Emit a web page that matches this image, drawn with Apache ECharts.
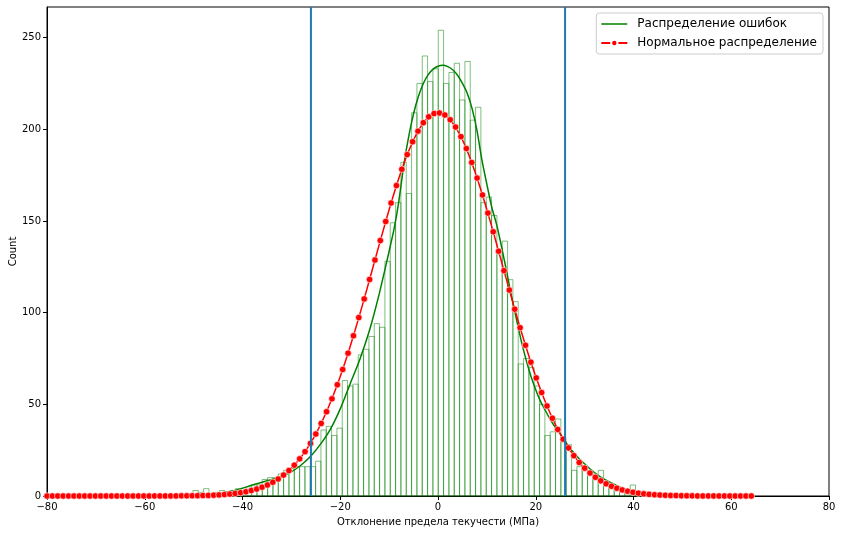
<!DOCTYPE html>
<html><head><meta charset="utf-8">
<script src="https://cdn.jsdelivr.net/npm/echarts/dist/echarts.min.js"></script>
<style>html,body{margin:0;padding:0;background:#fff}#c{width:842px;height:534px}</style>
</head><body><div id="c"></div>
<script>
// Histogram: first bin edge and bin width, counts per bin (left to right)
const binStart = -51.227;
const binWidth = 1.091;
const histCounts = [
  1, 3, 2, 4, 1, 2, 3, 2, 3, 4,
  3, 5, 6, 6, 9, 10, 10, 12, 14, 15,
  16, 16, 16, 16, 19, 36, 38, 33, 37, 63,
  60, 61, 77, 80, 87, 94, 92, 128, 149, 160,
  182, 165, 209, 225, 240, 226, 233, 254, 225, 231,
  236, 216, 237, 205, 212, 160, 163, 153, 133, 139,
  118, 106, 72, 75, 70, 60, 50, 33, 35, 42,
  30, 28, 14, 16, 16, 13, 11, 14, 7, 5,
  4, 3, 2, 6, 1
];

// Green KDE curve ("Распределение ошибок")
const kdeX = [-56,-54,-52,-50,-48,-46,-44,-42,-40,-38,-36,-34,-32,-30,-28,-26,-24,-22,-20,-18,-16,-14,-12,-10,-9,-8,-7,-6,-5,-4,-3,-2,-1,0,1,2,3,4,5,6,7,8,9,10,11,12,13,14,15,16,17,18,19,20,21,22,23,24,25,26,27,28,29,30,31,32,33,34,36,38,40,42,44,46,48];
const kdeY = [0.1,0.25,0.5,0.8,1.0,1.3,1.8,2.7,4.2,6.0,7.5,9.0,10.8,13.2,16.9,21.8,28.4,36.5,47.5,61,74.5,90.5,110.5,133.5,145.5,161,180.5,196,208.5,218,225,229.8,232.8,234.4,234.9,234.2,232.5,229.5,225,219.5,211,199,183,170,157.5,148,136,123,109.5,97,85,74.5,65.5,58,51.5,46.5,41.5,37.5,34,30,26,23,20,17.5,15,12.8,10.8,9.2,6.4,4,2.4,1.3,0.7,0.3,0.1];

// Red normal curve ("Нормальное распределение")
const normX = [-80,-78.9,-77.8,-76.7,-75.6,-74.5,-73.4,-72.3,-71.2,-70.1,-69,-67.9,-66.8,-65.7,-64.6,-63.5,-62.4,-61.3,-60.2,-59.1,-58,-56.9,-55.8,-54.7,-53.6,-52.5,-51.4,-50.3,-49.2,-48.1,-47,-45.9,-44.8,-43.7,-42.6,-41.5,-40.4,-39.3,-38.2,-37.1,-36,-34.9,-33.8,-32.7,-31.6,-30.5,-29.4,-28.3,-27.2,-26.1,-25,-23.9,-22.8,-21.7,-20.6,-19.5,-18.4,-17.3,-16.2,-15.1,-14,-12.9,-11.8,-10.7,-9.6,-8.5,-7.4,-6.3,-5.2,-4.1,-3,-1.9,-0.8,0.3,1.4,2.5,3.6,4.7,5.8,6.9,8,9.1,10.2,11.3,12.4,13.5,14.6,15.7,16.8,17.9,19,20.1,21.2,22.3,23.4,24.5,25.6,26.7,27.8,28.9,30,31.1,32.2,33.3,34.4,35.5,36.6,37.7,38.8,39.9,41,42.1,43.2,44.3,45.4,46.5,47.6,48.7,49.8,50.9,52,53.1,54.2,55.3,56.4,57.5,58.6,59.7,60.8,61.9,63,64.1];
const normY = [0,0,0,0,0,0,0,0,0,0,0,0,0,0,0,0,0,0,0,0,0.01,0.01,0.02,0.03,0.05,0.07,0.09,0.13,0.18,0.25,0.33,0.45,0.6,0.8,1.05,1.38,1.8,2.32,2.98,3.79,4.79,6.01,7.49,9.27,11.39,13.89,16.83,20.26,24.2,28.7,33.8,39.6,45.96,53.0,60.7,69.0,77.9,87.4,97.3,107.5,118.1,128.7,139.3,149.7,159.8,169.3,178.2,186.2,193.2,199.0,203.6,206.8,208.6,208.9,207.8,205.2,201.2,196.0,189.5,181.9,173.4,164.2,154.3,144.1,133.5,122.9,112.3,101.9,91.8,82.2,73.0,64.4,56.4,49.1,42.4,36.3,31.0,26.2,22.0,18.3,15.2,12.5,10.2,8.26,6.65,5.31,4.22,3.32,2.6,2.02,1.56,1.2,0.91,0.69,0.52,0.38,0.28,0.21,0.15,0.11,0.08,0.05,0.04,0.03,0.02,0.01,0.01,0,0,0,0,0];

// Vertical limit lines
const limits = [-26, 26];

const seriesNames = ['Распределение ошибок', 'Нормальное распределение'];
const xLabel = 'Отклонение предела текучести (МПа)';
const yLabel = 'Count';

const histData = histCounts.map((c, i) => [binStart + i * binWidth, binStart + (i + 1) * binWidth, c]);
const kdeData = kdeX.map((x, i) => [x, kdeY[i]]);
const normData = normX.map((x, i) => [x, normY[i]]);

const font = 'DejaVu Sans';
const chart = echarts.init(document.getElementById('c'), null, {renderer: 'canvas'});
chart.setOption({
  animation: false,
  backgroundColor: '#fff',
  grid: {left: 47, right: 13, top: 7, bottom: 38, show: true, borderColor: '#000', borderWidth: 1,
    backgroundColor: 'transparent', containLabel: false, outerBoundsMode: 'none'},
  xAxis: {
    type: 'value', min: -80, max: 80, interval: 20,
    name: xLabel, nameLocation: 'middle', nameGap: 21, nameMoveOverlap: false,
    nameTextStyle: {fontFamily: font, fontSize: 10, color: '#000'},
    axisLine: {show: true, onZero: false, lineStyle: {color: '#000', width: 1}},
    axisTick: {show: true, length: 4, lineStyle: {color: '#000'}},
    axisLabel: {fontFamily: font, fontSize: 10, color: '#000', margin: 6,
      formatter: v => String(v).replace('-', '\u2212')},
    splitLine: {show: false}
  },
  yAxis: {
    type: 'value', min: 0, max: 266.7, interval: 50,
    name: yLabel, nameLocation: 'middle', nameGap: 29, nameMoveOverlap: false,
    nameTextStyle: {fontFamily: font, fontSize: 10, color: '#000'},
    axisLine: {show: true, onZero: false, lineStyle: {color: '#000', width: 1}},
    axisTick: {show: true, length: 4, lineStyle: {color: '#000'}},
    axisLabel: {fontFamily: font, fontSize: 10, color: '#000', margin: 6, showMaxLabel: false},
    splitLine: {show: false}
  },
  legend: {
    data: [
      {name: seriesNames[0], icon: 'path://M0 0H26V1.5H0Z', itemStyle: {color: '#008000'}},
      {name: seriesNames[1]}
    ],
    orient: 'vertical', right: 19, top: 13,
    itemWidth: 26, itemHeight: 8, itemGap: 7,
    padding: [5, 6, 5, 4],
    backgroundColor: 'rgba(255,255,255,0.8)',
    borderColor: '#cccccc', borderWidth: 1, borderRadius: 3,
    textStyle: {fontFamily: font, fontSize: 12, color: '#000', padding: [0, 0, 0, 5]}
  },
  series: [
    {
      type: 'custom', name: 'hist', z: 1, silent: true,
      data: histData,
      encode: {x: [0, 1], y: 2},
      renderItem: (params, api) => {
        const p0 = api.coord([api.value(0), api.value(2)]);
        const p1 = api.coord([api.value(1), 0]);
        return {type: 'rect', shape: {x: p0[0], y: p0[1], width: p1[0] - p0[0], height: p1[1] - p0[1]},
          style: {fill: 'none', stroke: 'rgba(0,128,0,0.5)', lineWidth: 1}};
      }
    },
    {
      type: 'line', name: seriesNames[0], z: 2, data: kdeData,
      symbol: 'none', smooth: 0.2,
      lineStyle: {color: '#008000', width: 1.5}, itemStyle: {color: '#008000'}
    },
    {
      type: 'line', name: seriesNames[1], z: 3, data: normData,
      symbol: 'circle', symbolSize: 6.5, showSymbol: true,
      lineStyle: {color: '#ff0000', width: 1.5},
      itemStyle: {color: '#ff0000', borderColor: '#ffffff', borderWidth: 0.6}
    },
    {
      type: 'custom', name: 'limits', z: 4, silent: true,
      data: limits.map(v => [v]),
      encode: {x: 0},
      renderItem: (params, api) => {
        const cs = params.coordSys;
        const px = api.coord([api.value(0), 0])[0];
        return {type: 'line', shape: {x1: px, y1: cs.y, x2: px, y2: cs.y + cs.height},
          style: {stroke: '#1f77b4', lineWidth: 2}};
      }
    }
  ]
});
</script></body></html>
